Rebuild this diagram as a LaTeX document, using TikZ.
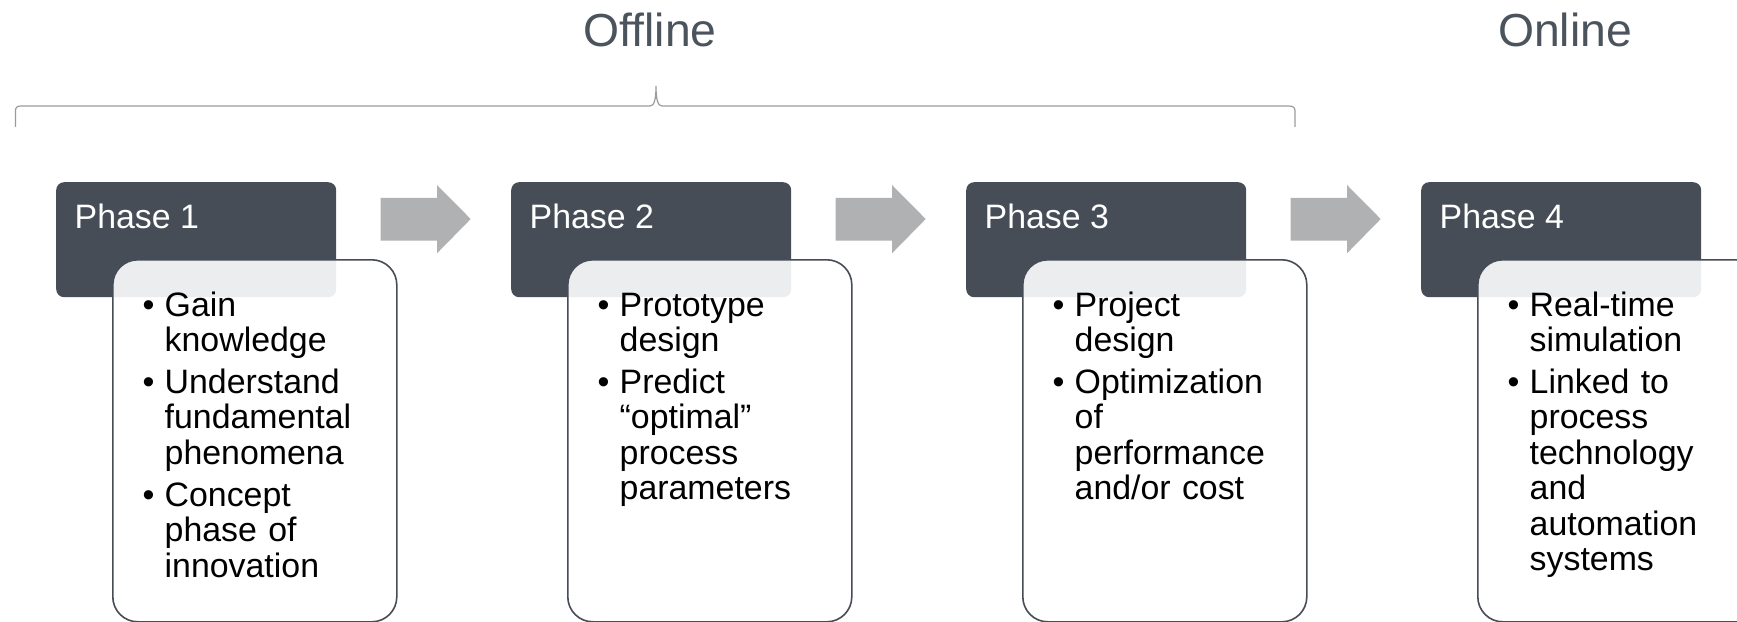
\documentclass[tikz,border=0pt]{standalone}
\usepackage{fontspec}
\setmainfont{Liberation Sans}
\usetikzlibrary{positioning}

\definecolor{phasegray}{HTML}{464D56}
\definecolor{titlegray}{HTML}{4B535D}
\definecolor{arrowgray}{HTML}{B0B1B3}
\definecolor{bracegray}{HTML}{9B9B9B}

\newcommand{\bul}{\strut\makebox[22bp][l]{\textbullet}}
\newcommand{\ind}{\strut\hspace*{22bp}}

\tikzset{
  phasebox/.style={fill=phasegray, rounded corners=8bp, minimum width=280bp,
    minimum height=115bp, anchor=north west, inner sep=0pt},
  phaselabel/.style={anchor=base west, text=white, inner sep=0pt,
    font=\fontsize{34}{35.6}\selectfont},
  itembox/.style={draw=phasegray, line width=1.6bp, fill=white, fill opacity=0.9,
    rounded corners=25bp, minimum width=284bp, minimum height=362bp,
    anchor=north west, inner sep=0pt},
  itemtext/.style={anchor=north west, inner sep=0pt, text width=250bp, align=left,
    font=\fontsize{34}{35.6}\selectfont},
  stagearrow/.style={fill=arrowgray},
  stagetitle/.style={anchor=base, text=titlegray, inner sep=0pt,
    font=\fontsize{46.5}{50}\selectfont}
}

\begin{document}
\begin{tikzpicture}[x=1bp, y=-1bp]
    \useasboundingbox (0,0) rectangle (1737,622);

    \node[stagetitle] (off) at (650,46.7) {Offline};
    \node[stagetitle] (on) at (1565,46.7) {Online};
    \draw[bracegray, line width=1.2bp] (15.5,127) -- (15.5,111)
        .. controls (15.5,107.5) and (17,106) .. (21,106) -- (650,106)
        .. controls (654,106) and (656,100) .. (656,86)
        .. controls (656,100) and (658,106) .. (662,106) -- (1289,106)
        .. controls (1293,106) and (1295,107.5) .. (1295,111) -- (1295,127);

    \node[phasebox] (p1) at (56,182) {};
    \node[itembox] (b1) at ([shift={(56,77)}]p1.north west) {};
    \node[phaselabel] (l1) at ([shift={(18.5,47)}]p1.north west) {Phase 1};
    \node[itemtext] (t1) at ([shift={(30.5,32)}]b1.north west)
        {\bul Gain\\ \ind knowledge\\[6.5pt] \bul Understand\\ \ind fundamental\\ \ind phenomena\\[6.5pt]
         \bul Concept\\ \ind phase of\\ \ind innovation};

    \node[phasebox] (p2) at (511,182) {};
    \node[itembox] (b2) at ([shift={(56,77)}]p2.north west) {};
    \node[phaselabel] (l2) at ([shift={(18.5,47)}]p2.north west) {Phase 2};
    \node[itemtext] (t2) at ([shift={(30.5,32)}]b2.north west)
        {\bul Prototype\\ \ind design\\[6.5pt] \bul Predict\\ \ind “optimal”\\ \ind process\\ \ind parameters};

    \node[phasebox] (p3) at (966,182) {};
    \node[itembox] (b3) at ([shift={(56,77)}]p3.north west) {};
    \node[phaselabel] (l3) at ([shift={(18.5,47)}]p3.north west) {Phase 3};
    \node[itemtext] (t3) at ([shift={(30.5,32)}]b3.north west)
        {\bul Project\\ \ind design\\[6.5pt] \bul Optimization\\ \ind of\\ \ind performance\\ \ind and/or cost};

    \node[phasebox] (p4) at (1421,182) {};
    \node[itembox] (b4) at ([shift={(56,77)}]p4.north west) {};
    \node[phaselabel] (l4) at ([shift={(18.5,47)}]p4.north west) {Phase 4};
    \node[itemtext] (t4) at ([shift={(30.5,32)}]b4.north west)
        {\bul Real-time\\ \ind simulation\\[6.5pt] \bul Linked to\\ \ind process\\ \ind technology\\ \ind and\\
         \ind automation\\ \ind systems};

    \fill[stagearrow] (380.7,198) -- (437,198) -- (437,185) -- (470.7,219) -- (437,253.3)
        -- (437,240.7) -- (380.7,240.7) -- cycle;
    \fill[stagearrow, shift={(455,0)}] (380.7,198) -- (437,198) -- (437,185) -- (470.7,219)
        -- (437,253.3) -- (437,240.7) -- (380.7,240.7) -- cycle;
    \fill[stagearrow, shift={(910,0)}] (380.7,198) -- (437,198) -- (437,185) -- (470.7,219)
        -- (437,253.3) -- (437,240.7) -- (380.7,240.7) -- cycle;
\end{tikzpicture}
\end{document}
